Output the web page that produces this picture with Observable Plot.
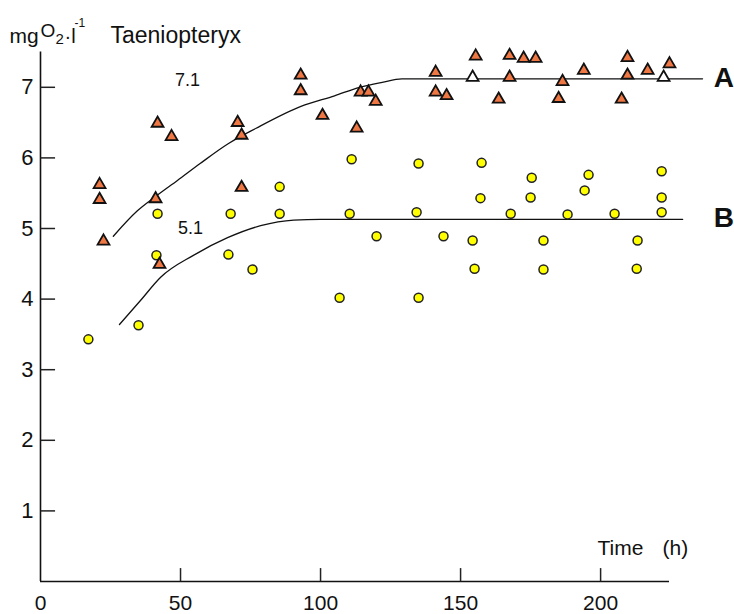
<!DOCTYPE html>
<html>
<head>
<meta charset="utf-8">
<script src="https://cdn.jsdelivr.net/npm/d3@7"></script>
<script src="https://cdn.jsdelivr.net/npm/@observablehq/plot@0.6"></script>
<style>
  body { margin: 0; background: #fff; }
  svg { overflow: visible; }
</style>
</head>
<body>
<div id="chart"></div>
<script>
// Series A (triangles): time (h), mg O2 / l
const aTime = [21.1, 21.1, 22.5, 41.1, 41.8, 46.8, 42.5, 70.4, 71.8, 71.8, 92.9, 92.9, 100.7, 112.9, 114.3, 117.1, 119.7, 141.1, 141.1, 145.0, 155.4, 163.6, 167.5, 167.5, 172.5, 176.8, 186.4, 185.0, 194.0, 209.6, 209.6, 207.5, 216.8, 224.6];
const aO2   = [5.62, 5.41, 4.82, 5.42, 6.49, 6.30, 4.49, 6.50, 6.32, 5.58, 7.17, 6.95, 6.60, 6.42, 6.93, 6.93, 6.80, 7.21, 6.93, 6.88, 7.44, 6.83, 7.45, 7.14, 7.41, 7.41, 7.08, 6.84, 7.24, 7.42, 7.17, 6.83, 7.24, 7.33];
// Series A, open (unfilled) triangles
const aOpenTime = [154.3, 222.5];
const aOpenO2   = [7.14, 7.14];
// Series B (circles)
const bTime = [17.1, 35.0, 41.8, 41.4, 67.9, 67.1, 75.7, 85.4, 85.4, 111.1, 110.4, 120.0, 106.8, 135.0, 134.3, 143.9, 135.0, 157.5, 157.1, 154.3, 155.0, 167.9, 175.4, 175.0, 179.6, 179.6, 188.2, 195.7, 194.3, 205.0, 213.2, 212.9, 221.8, 221.8, 221.8];
const bO2   = [3.43, 3.63, 5.21, 4.62, 5.21, 4.63, 4.42, 5.59, 5.21, 5.98, 5.21, 4.89, 4.02, 5.92, 5.23, 4.89, 4.02, 5.93, 5.43, 4.83, 4.43, 5.21, 5.72, 5.44, 4.83, 4.42, 5.20, 5.76, 5.54, 5.21, 4.83, 4.43, 5.81, 5.44, 5.23];
// Fitted curves
const curveATime = [26, 34.6, 41, 48.9, 57, 67, 77, 93, 105, 114, 122, 129, 150, 236.4];
const curveAO2   = [4.89, 5.25, 5.45, 5.68, 5.92, 6.2, 6.42, 6.73, 6.88, 7.0, 7.07, 7.12, 7.12, 7.12];
const curveBTime = [28.2, 35.7, 42.9, 54.6, 66.8, 78.6, 90.4, 100, 120, 229.3];
const curveBO2   = [3.64, 3.98, 4.31, 4.62, 4.87, 5.04, 5.12, 5.13, 5.13, 5.13];
// Ticks
const xTicks = [0, 50, 100, 150, 200];
const xTickMarks = [50, 100, 150, 200];
const yTicks = [1, 2, 3, 4, 5, 6, 7];
// Annotations
const plateauLabels = ["7.1", "5.1"];
const plateauX = [52.5, 53.6];
const plateauY = [7.1, 5.0];
const curveNames = ["A", "B"];
const curveNameY = [7.13, 5.15];

const toPts = (xs, ys) => xs.map((x, i) => ({x, y: ys[i]}));
const A = toPts(aTime, aO2);
const AOpen = toPts(aOpenTime, aOpenO2);
const B = toPts(bTime, bO2);
const cA = toPts(curveATime, curveAO2);
const cB = toPts(curveBTime, curveBO2);
const plateaus = plateauLabels.map((t, i) => ({t, x: plateauX[i], y: plateauY[i]}));
const names = curveNames.map((t, i) => ({t, y: curveNameY[i]}));
const xTickRows = xTickMarks.map(v => ({v}));
const yTickRows = yTicks.map(v => ({v}));

const W = 734, H = 614;
const mL = 40, mR = 65, mT = 51.5, mB = 33;
const font = "Liberation Sans, Arial, Helvetica, sans-serif";

const chart = Plot.plot({
  width: W, height: H,
  marginLeft: mL, marginRight: mR, marginTop: mT, marginBottom: mB,
  x: {domain: [0, 224.6]},
  y: {domain: [0, 7.5]},
  style: {fontFamily: font, background: "#fff", color: "#111"},
  marks: [
    Plot.axisX(xTicks, {tickSize: 0, tickPadding: 14, fontSize: 21, label: null, fill: "#111", tickFormat: d => String(d)}),
    Plot.axisY(yTicks, {tickSize: 0, tickPadding: 7, fontSize: 22, label: null, fill: "#111", tickFormat: d => String(d)}),
    Plot.ruleX([0], {stroke: "#111", strokeWidth: 1.6}),
    Plot.ruleY([0], {stroke: "#111", strokeWidth: 1.6}),
    // inward tick marks
    Plot.link(xTickRows, {x1: "v", x2: "v", y1: () => 0, y2: () => 0.19, stroke: "#222", strokeWidth: 1.5}),
    Plot.link(yTickRows, {x1: () => 0, x2: () => 5.2, y1: "v", y2: "v", stroke: "#222", strokeWidth: 1.5}),
    Plot.line(cA, {x: "x", y: "y", curve: "monotone-x", stroke: "#111", strokeWidth: 1.3}),
    Plot.line(cB, {x: "x", y: "y", curve: "monotone-x", stroke: "#111", strokeWidth: 1.3}),
    Plot.dot(B, {x: "x", y: "y", r: 4.5, fill: "#ffff00", stroke: "#222", strokeWidth: 1.5}),
    Plot.dot(A, {x: "x", y: "y", r: 4.4, symbol: "triangle", fill: "#ee7744", stroke: "#111", strokeWidth: 1.8}),
    Plot.dot(AOpen, {x: "x", y: "y", r: 4.4, symbol: "triangle", fill: "#ffffff", stroke: "#111", strokeWidth: 1.8}),
    Plot.text(plateaus, {x: "x", y: "y", text: "t", fontSize: 18, fill: "#111"}),
    Plot.text(names, {x: 244, y: "y", text: "t", fontSize: 28, fontWeight: "bold", fill: "#111"}),
    Plot.text(["Time"], {x: 198.9, y: 0.37, text: d => d, textAnchor: "start", lineAnchor: "bottom", fontSize: 21, fill: "#111"}),
    Plot.text(["(h)"], {x: 222.1, y: 0.37, text: d => d, textAnchor: "start", lineAnchor: "bottom", fontSize: 21, fill: "#111"}),
    // Title and unit label, placed relative to the frame's top-left corner
    Plot.text(["Taeniopteryx"], {frameAnchor: "top-left", dx: 70, dy: -9.5, text: d => d, textAnchor: "start", lineAnchor: "bottom", fontSize: 23, fill: "#111"}),
    Plot.text(["mg"], {frameAnchor: "top-left", dx: -31, dy: -9.5, text: d => d, textAnchor: "start", lineAnchor: "bottom", fontSize: 21, fill: "#111"}),
    Plot.text(["O"], {frameAnchor: "top-left", dx: 0, dy: -15.5, text: d => d, textAnchor: "start", lineAnchor: "bottom", fontSize: 19, fill: "#111"}),
    Plot.text(["2"], {frameAnchor: "top-left", dx: 15, dy: -8.5, text: d => d, textAnchor: "start", lineAnchor: "bottom", fontSize: 15, fill: "#111"}),
    Plot.text(["·l"], {frameAnchor: "top-left", dx: 24, dy: -9.5, text: d => d, textAnchor: "start", lineAnchor: "bottom", fontSize: 20, fill: "#111"}),
    Plot.text(["-1"], {frameAnchor: "top-left", dx: 34, dy: -25.5, text: d => d, textAnchor: "start", lineAnchor: "bottom", fontSize: 12, fill: "#111"})
  ]
});
document.getElementById("chart").appendChild(chart);
</script>
</body>
</html>
